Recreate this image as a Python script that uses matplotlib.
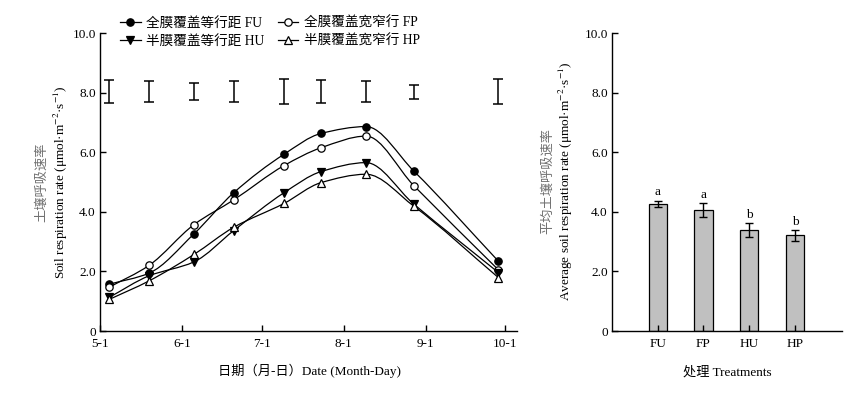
import numpy as np
import matplotlib
matplotlib.use("Agg")
import matplotlib.pyplot as plt
from matplotlib.path import Path
from matplotlib.patches import PathPatch
from matplotlib.lines import Line2D

plt.rcParams['font.family'] = ['Liberation Serif', 'Noto Sans CJK SC']
plt.rcParams['mathtext.fontset'] = 'stix'
plt.rcParams['font.size'] = 9.5

# ---------------- data ----------------
# sampling days counted from May 1
sample_days = [3.5, 18.5, 35.5, 50.5, 69.5, 83.5, 100.5, 118.5, 150.5]
FU = [1.57, 1.94, 3.26, 4.64, 5.93, 6.63, 6.86, 5.37, 2.34]
FP = [1.47, 2.20, 3.57, 4.40, 5.55, 6.15, 6.54, 4.88, 2.05]
HU = [1.13, 1.85, 2.32, 3.37, 4.64, 5.35, 5.65, 4.26, 1.96]
HP = [1.06, 1.68, 2.57, 3.48, 4.28, 4.98, 5.26, 4.19, 1.79]
lsd_center = 8.03
lsd_half = [0.39, 0.36, 0.29, 0.36, 0.42, 0.39, 0.35, 0.23, 0.42]

month_ticks = [0, 31, 61, 92, 123, 153]
month_labels = ['5-1', '6-1', '7-1', '8-1', '9-1', '10-1']

treatments = ['FU', 'FP', 'HU', 'HP']
mean_rate = [4.26, 4.06, 3.39, 3.21]
mean_err = [0.11, 0.23, 0.23, 0.18]
sig_letters = ['a', 'a', 'b', 'b']

series_labels = ['全膜覆盖等行距 FU', '全膜覆盖宽窄行 FP', '半膜覆盖等行距 HU', '半膜覆盖宽窄行 HP']
series_markers = ['o', 'o', 'v', '^']
series_faces = ['black', 'white', 'black', 'white']

W, H = 855, 397
fig = plt.figure(figsize=(W / 100, H / 100), dpi=100)

ax1 = fig.add_axes([100 / W, 1 - 331 / H, 417 / W, 298 / H])
ax2 = fig.add_axes([612 / W, 1 - 331 / H, 230 / W, 298 / H])


def smooth_path(x, y):
    """Monotone (Fritsch-Carlson) cubic drawn as Bezier segments through the points."""
    x = np.asarray(x, float)
    y = np.asarray(y, float)
    n = len(x)
    h = np.diff(x)
    d = np.diff(y) / h
    m = np.zeros(n)
    m[0], m[-1] = d[0], d[-1]
    for i in range(1, n - 1):
        if d[i - 1] * d[i] <= 0:
            m[i] = 0.0
        else:
            w1 = 2 * h[i] + h[i - 1]
            w2 = h[i] + 2 * h[i - 1]
            m[i] = (w1 + w2) / (w1 / d[i - 1] + w2 / d[i])
    verts = [(x[0], y[0])]
    codes = [Path.MOVETO]
    for i in range(n - 1):
        c1 = (x[i] + h[i] / 3, y[i] + m[i] * h[i] / 3)
        c2 = (x[i + 1] - h[i] / 3, y[i + 1] - m[i + 1] * h[i] / 3)
        verts += [c1, c2, (x[i + 1], y[i + 1])]
        codes += [Path.CURVE4] * 3
    return Path(verts, codes)


handles = []
for vals, lab, mk, fc in zip([FU, FP, HU, HP], series_labels, series_markers, series_faces):
    patch = PathPatch(smooth_path(sample_days, vals), facecolor='none', edgecolor='black', lw=0.9, zorder=2)
    ax1.add_patch(patch)
    ax1.plot(sample_days, vals, linestyle='none', marker=mk, ms=5.3, mfc=fc, mec='black', mew=0.9, zorder=3)
    handles.append(Line2D([], [], color='black', lw=0.9, marker=mk, ms=5.3, mfc=fc, mec='black', mew=0.9, label=lab))

ax1.errorbar(sample_days, [lsd_center] * len(sample_days), yerr=lsd_half, fmt='none',
             ecolor='black', elinewidth=1.1, capsize=3.5, capthick=1.1)

ax1.set_xlim(0, 157.5)
ax1.set_ylim(0, 10)
ax1.set_xticks(month_ticks)
ax1.set_xticklabels(month_labels)
yt = [0, 2, 4, 6, 8, 10]
ax1.set_yticks(yt)
ax1.set_yticklabels(['0', '2.0', '4.0', '6.0', '8.0', '10.0'])

order = [0, 2, 1, 3]
leg = fig.legend([handles[i] for i in order], [series_labels[i] for i in order], ncol=2,
                 loc='center', bbox_to_anchor=(270 / W, 1 - 32 / H), frameon=False,
                 handlelength=1.5, handletextpad=0.4, columnspacing=1.0, labelspacing=0.35,
                 fontsize=9.8)

# right panel
xpos = np.arange(len(treatments))
ax2.bar(xpos, mean_rate, width=0.4, color='#c0c0c0', edgecolor='black', linewidth=0.9,
        yerr=mean_err, capsize=3, error_kw=dict(elinewidth=1.0, capthick=1.0, ecolor='black'))
for xi, v, e, s in zip(xpos, mean_rate, mean_err, sig_letters):
    ax2.text(xi, v + e + 0.08, s, ha='center', va='bottom', fontsize=9.5)
ax2.set_xlim(-1.0, 4.03)
ax2.set_ylim(0, 10)
ax2.set_xticks(xpos)
ax2.set_xticklabels(treatments)
ax2.set_yticks(yt)
ax2.set_yticklabels(['0', '2.0', '4.0', '6.0', '8.0', '10.0'])
ax2.tick_params(axis='x', length=0)

for ax in (ax1, ax2):
    for s in ('top', 'right'):
        ax.spines[s].set_visible(False)
    for s in ('left', 'bottom'):
        ax.spines[s].set_linewidth(1.0)
    ax.tick_params(direction='in', length=4, width=1.0, labelsize=9.5)
    ax.tick_params(axis='y', pad=3)
    ax.tick_params(axis='x', pad=5)

# axis labels
fig.text(42 / W, 1 - 182 / H, '土壤呼吸速率', rotation=90, ha='center', va='center',
         color='#707070', fontsize=9.5)
fig.text(61 / W, 1 - 182 / H, r'Soil respiration rate (μmol·m$^{-2}$·s$^{-1}$)', rotation=90,
         ha='center', va='center', fontsize=9.5)
fig.text(548 / W, 1 - 181 / H, '平均土壤呼吸速率', rotation=90, ha='center', va='center',
         color='#707070', fontsize=9.5)
fig.text(566 / W, 1 - 181 / H, r'Average soil respiration rate (μmol·m$^{-2}$·s$^{-1}$)', rotation=90,
         ha='center', va='center', fontsize=9.5)
fig.text(309 / W, 1 - 371 / H, '日期（月-日）Date (Month-Day)', ha='center', va='center', fontsize=9.5)
fig.text(727 / W, 1 - 372 / H, '处理 Treatments', ha='center', va='center', fontsize=9.5)

fig.savefig('out.png', dpi=100)
